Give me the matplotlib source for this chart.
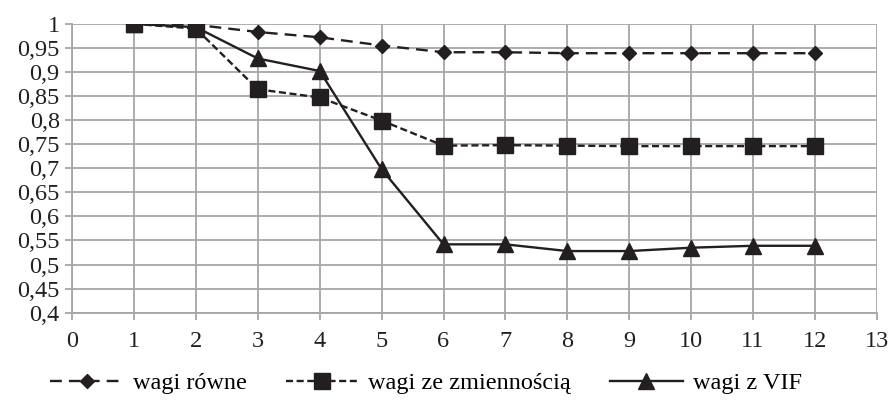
import matplotlib.pyplot as plt
from matplotlib.ticker import FuncFormatter, MultipleLocator

plt.rcParams['font.family'] = ['Liberation Serif', 'DejaVu Serif']

x = [1, 2, 3, 4, 5, 6, 7, 8, 9, 10, 11, 12]
wagi_rowne = [1.0, 0.998, 0.983, 0.972, 0.955, 0.941, 0.941, 0.939, 0.939, 0.939, 0.939, 0.939]
wagi_zmiennosc = [1.0, 0.99, 0.864, 0.847, 0.799, 0.747, 0.748, 0.747, 0.746, 0.746, 0.746, 0.746]
wagi_vif = [1.0, 0.993, 0.928, 0.902, 0.698, 0.542, 0.542, 0.528, 0.528, 0.535, 0.539, 0.539]
labels = ['wagi równe', 'wagi ze zmiennością', 'wagi z VIF']

fig = plt.figure(figsize=(8.91, 4.04), dpi=100)
ax = fig.add_axes([0.081, 0.226, 0.903, 0.715])

c = '#231f20'
ax.plot(x, wagi_rowne, color=c, lw=1.7, ls=(0, (5, 3)), marker='D', ms=7.5, label=labels[0])
ax.plot(x, wagi_zmiennosc, color=c, lw=1.7, ls=(0, (3, 1.5)), marker='s', ms=12, label=labels[1])
ax.plot(x, wagi_vif, color=c, lw=1.7, ls='-', marker='^', ms=12, label=labels[2])

ax.set_xlim(0, 13)
ax.set_ylim(0.4, 1.0)
ax.xaxis.set_major_locator(MultipleLocator(1))
ax.yaxis.set_major_locator(MultipleLocator(0.05))
ax.yaxis.set_major_formatter(FuncFormatter(lambda v, p: ('%.2f' % v).rstrip('0').rstrip('.').replace('.', ',')))
ax.grid(True, color='#a6a6a6', lw=1.3)
ax.set_axisbelow(True)
for s in ax.spines.values():
    s.set_color('#a6a6a6')
    s.set_linewidth(1.3)
ax.spines['top'].set_visible(False)
ax.spines['right'].set_visible(False)
ax.tick_params(colors='#a6a6a6', labelcolor='#231f20', labelsize=17.5, length=5, width=1.3)
ax.tick_params(axis='x', pad=8)
ax.tick_params(axis='y', pad=4)

fig.legend(loc='lower center', bbox_to_anchor=(0.478, -0.03), ncol=3, frameon=False,
           fontsize=17.5, handlelength=3.0, columnspacing=1.6, handletextpad=0.4)

fig.savefig('out.png', dpi=100)
